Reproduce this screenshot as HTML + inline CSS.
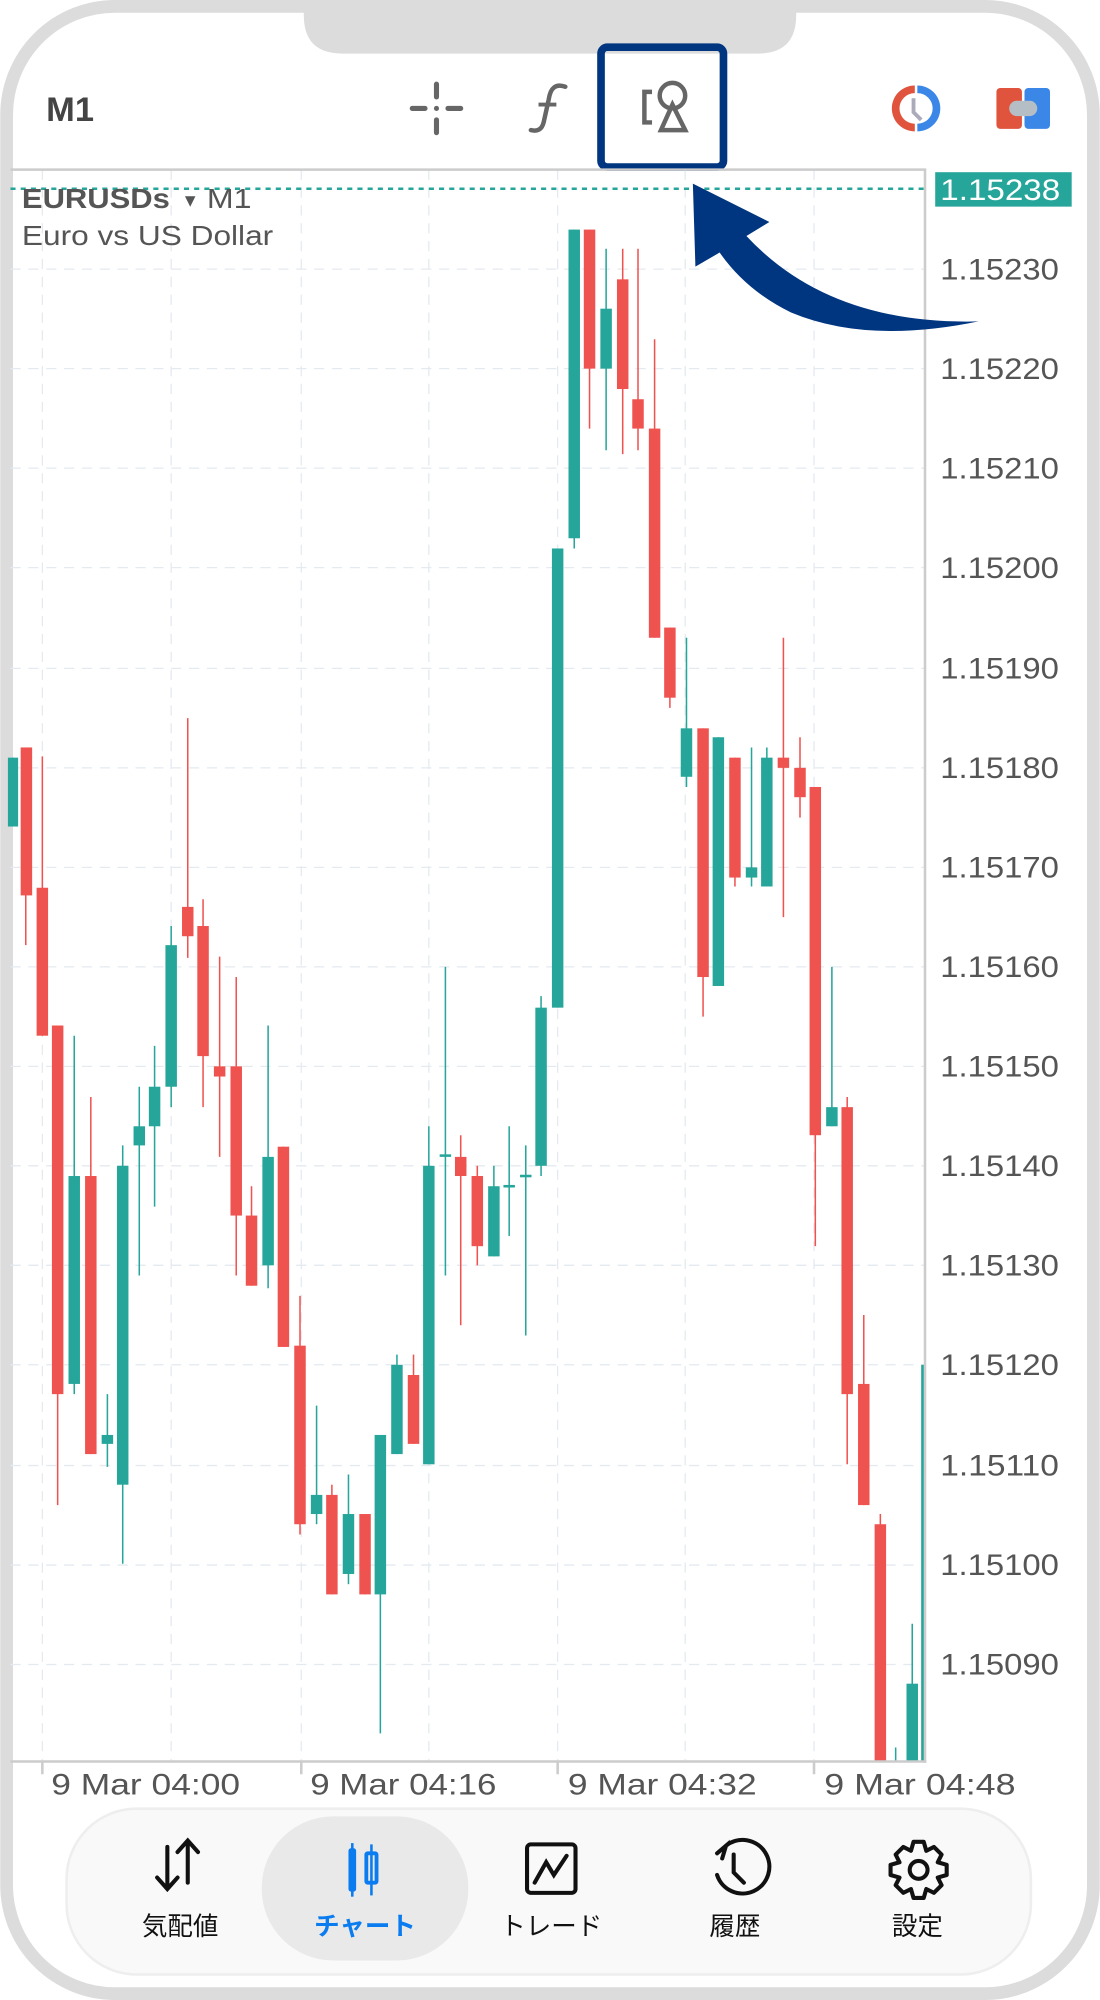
<!DOCTYPE html>
<html><head><meta charset="utf-8"><style>
html,body{margin:0;padding:0;background:#fff;}
svg{display:block;}
text{font-family:"Liberation Sans","Noto Sans CJK JP",sans-serif;}
</style></head><body>
<svg width="1100" height="2000" viewBox="0 0 862 1568" xmlns="http://www.w3.org/2000/svg">
<rect x="0" y="0" width="862" height="1568" fill="#fff"/>
<rect x="5" y="5" width="852" height="1558" rx="85" fill="#fff" stroke="#dcdcdc" stroke-width="10"/>
<path d="M238 0 H624 V12 Q624 42 594 42 H268 Q238 42 238 12 Z" fill="#dcdcdc"/>
<text x="36" y="95" font-size="27" font-weight="bold" fill="#444">M1</text>
<g stroke="#666" stroke-width="4" stroke-linecap="round">
<line x1="342" y1="66" x2="342" y2="76"/><line x1="342" y1="94" x2="342" y2="104"/>
<line x1="323" y1="85" x2="333" y2="85"/><line x1="351" y1="85" x2="361" y2="85"/>
</g>
<circle cx="342" cy="85" r="2" fill="#666"/>
<path d="M443 68 Q432 64 430 78 L426 96 Q424 104 416 102" fill="none" stroke="#666" stroke-width="3.5" stroke-linecap="round"/>
<line x1="422" y1="82" x2="436" y2="82" stroke="#666" stroke-width="3"/>
<g fill="none" stroke="#666" stroke-width="3.5">
<path d="M511 72 H505 V96 H511"/>
<circle cx="527" cy="75" r="10"/>
<path d="M527 82 L518 102 H537 Z"/>
</g>
<rect x="471" y="37" width="96" height="94" rx="5" fill="none" stroke="#003580" stroke-width="6"/>
<path d="M717 67 A18 18 0 0 0 717 103 V97 A12 12 0 0 1 717 73Z" fill="#e0533d"/>
<path d="M719 67 A18 18 0 0 1 719 103 V97 A12 12 0 0 0 719 73Z" fill="#3b87e8"/>
<path d="M716 77 V88 L722 94" stroke="#aab" stroke-width="3" fill="none"/>
<rect x="781" y="69" width="20" height="32" rx="3" fill="#e0533d"/>
<rect x="803" y="69" width="20" height="32" rx="3" fill="#3b87e8"/>
<rect x="791" y="79" width="22" height="12" rx="6" fill="#b5bec4"/>
<g stroke="#e4eaf0" stroke-width="1" stroke-dasharray="8,6">
<line x1="8" y1="211" x2="725" y2="211"/><line x1="8" y1="289" x2="725" y2="289"/>
<line x1="8" y1="367" x2="725" y2="367"/><line x1="8" y1="445" x2="725" y2="445"/>
<line x1="8" y1="524" x2="725" y2="524"/><line x1="8" y1="602" x2="725" y2="602"/>
<line x1="8" y1="680" x2="725" y2="680"/><line x1="8" y1="758" x2="725" y2="758"/>
<line x1="8" y1="836" x2="725" y2="836"/><line x1="8" y1="914" x2="725" y2="914"/>
<line x1="8" y1="992" x2="725" y2="992"/><line x1="8" y1="1070" x2="725" y2="1070"/>
<line x1="8" y1="1149" x2="725" y2="1149"/><line x1="8" y1="1227" x2="725" y2="1227"/>
<line x1="8" y1="1305" x2="725" y2="1305"/>
<line x1="33" y1="133" x2="33" y2="1381"/><line x1="134" y1="133" x2="134" y2="1381"/>
<line x1="236" y1="133" x2="236" y2="1381"/><line x1="336" y1="133" x2="336" y2="1381"/>
<line x1="437" y1="133" x2="437" y2="1381"/><line x1="537" y1="133" x2="537" y2="1381"/>
<line x1="638" y1="133" x2="638" y2="1381"/>
</g>
<line x1="8" y1="148" x2="725" y2="148" stroke="#26a69a" stroke-width="2" stroke-dasharray="4,4"/>
<g stroke-width="1.2">
<line x1="10" y1="594" x2="10" y2="648" stroke="#26a69a"/><rect x="6" y="594" width="8" height="54" fill="#26a69a"/>
<line x1="20" y1="586" x2="20" y2="741" stroke="#ef5350"/><rect x="16" y="586" width="9" height="116" fill="#ef5350"/>
<line x1="33" y1="593" x2="33" y2="812" stroke="#ef5350"/><rect x="28.5" y="696" width="9" height="116" fill="#ef5350"/>
<line x1="45" y1="804" x2="45" y2="1180" stroke="#ef5350"/><rect x="40.5" y="804" width="9" height="289" fill="#ef5350"/>
<line x1="58" y1="812" x2="58" y2="1093" stroke="#26a69a"/><rect x="53.5" y="922" width="9" height="163" fill="#26a69a"/>
<line x1="71" y1="860" x2="71" y2="1140" stroke="#ef5350"/><rect x="66.5" y="922" width="9" height="218" fill="#ef5350"/>
<line x1="84" y1="1093" x2="84" y2="1150" stroke="#26a69a"/><rect x="79.5" y="1125" width="9" height="7" fill="#26a69a"/>
<line x1="96" y1="898" x2="96" y2="1226" stroke="#26a69a"/><rect x="91.5" y="914" width="9" height="250" fill="#26a69a"/>
<line x1="109" y1="852" x2="109" y2="1000" stroke="#26a69a"/><rect x="104.5" y="883" width="9" height="15" fill="#26a69a"/>
<line x1="121" y1="820" x2="121" y2="946" stroke="#26a69a"/><rect x="116.5" y="852" width="9" height="31" fill="#26a69a"/>
<line x1="134" y1="726" x2="134" y2="868" stroke="#26a69a"/><rect x="129.5" y="741" width="9" height="111" fill="#26a69a"/>
<line x1="147" y1="563" x2="147" y2="751" stroke="#ef5350"/><rect x="142.5" y="711" width="9" height="23" fill="#ef5350"/>
<line x1="159" y1="705" x2="159" y2="868" stroke="#ef5350"/><rect x="154.5" y="726" width="9" height="102" fill="#ef5350"/>
<line x1="172" y1="750" x2="172" y2="907" stroke="#ef5350"/><rect x="167.5" y="836" width="9" height="8" fill="#ef5350"/>
<line x1="185" y1="766" x2="185" y2="1000" stroke="#ef5350"/><rect x="180.5" y="836" width="9" height="117" fill="#ef5350"/>
<line x1="197" y1="930" x2="197" y2="1008" stroke="#ef5350"/><rect x="192.5" y="953" width="9" height="55" fill="#ef5350"/>
<line x1="210" y1="804" x2="210" y2="1010" stroke="#26a69a"/><rect x="205.5" y="907" width="9" height="85" fill="#26a69a"/>
<line x1="222" y1="899" x2="222" y2="1056" stroke="#ef5350"/><rect x="217.5" y="899" width="9" height="157" fill="#ef5350"/>
<line x1="235" y1="1016" x2="235" y2="1203" stroke="#ef5350"/><rect x="230.5" y="1055" width="9" height="140" fill="#ef5350"/>
<line x1="248" y1="1102" x2="248" y2="1195" stroke="#26a69a"/><rect x="243.5" y="1172" width="9" height="15" fill="#26a69a"/>
<line x1="260" y1="1164" x2="260" y2="1250" stroke="#ef5350"/><rect x="255.5" y="1172" width="9" height="78" fill="#ef5350"/>
<line x1="273" y1="1156" x2="273" y2="1242" stroke="#26a69a"/><rect x="268.5" y="1187" width="9" height="47" fill="#26a69a"/>
<line x1="286" y1="1187" x2="286" y2="1250" stroke="#ef5350"/><rect x="281.5" y="1187" width="9" height="63" fill="#ef5350"/>
<line x1="298" y1="1125" x2="298" y2="1359" stroke="#26a69a"/><rect x="293.5" y="1125" width="9" height="125" fill="#26a69a"/>
<line x1="311" y1="1062" x2="311" y2="1140" stroke="#26a69a"/><rect x="306.5" y="1070" width="9" height="70" fill="#26a69a"/>
<line x1="324" y1="1062" x2="324" y2="1132" stroke="#ef5350"/><rect x="319.5" y="1078" width="9" height="54" fill="#ef5350"/>
<line x1="336" y1="883" x2="336" y2="1148" stroke="#26a69a"/><rect x="331.5" y="914" width="9" height="234" fill="#26a69a"/>
<line x1="349" y1="758" x2="349" y2="1000" stroke="#26a69a"/><rect x="344.5" y="905" width="9" height="2" fill="#26a69a"/>
<line x1="361" y1="890" x2="361" y2="1039" stroke="#ef5350"/><rect x="356.5" y="907" width="9" height="15" fill="#ef5350"/>
<line x1="374" y1="914" x2="374" y2="992" stroke="#ef5350"/><rect x="369.5" y="922" width="9" height="55" fill="#ef5350"/>
<line x1="387" y1="914" x2="387" y2="985" stroke="#26a69a"/><rect x="382.5" y="930" width="9" height="55" fill="#26a69a"/>
<line x1="399" y1="883" x2="399" y2="969" stroke="#26a69a"/><rect x="394.5" y="929" width="9" height="2" fill="#26a69a"/>
<line x1="412" y1="898" x2="412" y2="1047" stroke="#26a69a"/><rect x="407.5" y="921" width="9" height="2" fill="#26a69a"/>
<line x1="424" y1="781" x2="424" y2="922" stroke="#26a69a"/><rect x="419.5" y="790" width="9" height="124" fill="#26a69a"/>
<line x1="437" y1="430" x2="437" y2="790" stroke="#26a69a"/><rect x="432.5" y="430" width="9" height="360" fill="#26a69a"/>
<line x1="450" y1="180" x2="450" y2="430" stroke="#26a69a"/><rect x="445.5" y="180" width="9" height="242" fill="#26a69a"/>
<line x1="462" y1="180" x2="462" y2="336" stroke="#ef5350"/><rect x="457.5" y="180" width="9" height="109" fill="#ef5350"/>
<line x1="475" y1="195" x2="475" y2="353" stroke="#26a69a"/><rect x="470.5" y="242" width="9" height="47" fill="#26a69a"/>
<line x1="488" y1="195" x2="488" y2="356" stroke="#ef5350"/><rect x="483.5" y="219" width="9" height="86" fill="#ef5350"/>
<line x1="500" y1="195" x2="500" y2="353" stroke="#ef5350"/><rect x="495.5" y="313" width="9" height="23" fill="#ef5350"/>
<line x1="513" y1="266" x2="513" y2="500" stroke="#ef5350"/><rect x="508.5" y="336" width="9" height="164" fill="#ef5350"/>
<line x1="525" y1="492" x2="525" y2="555" stroke="#ef5350"/><rect x="520.5" y="492" width="9" height="55" fill="#ef5350"/>
<line x1="538" y1="500" x2="538" y2="617" stroke="#26a69a"/><rect x="533.5" y="571" width="9" height="38" fill="#26a69a"/>
<line x1="551" y1="571" x2="551" y2="797" stroke="#ef5350"/><rect x="546.5" y="571" width="9" height="195" fill="#ef5350"/>
<line x1="563" y1="578" x2="563" y2="773" stroke="#26a69a"/><rect x="558.5" y="578" width="9" height="195" fill="#26a69a"/>
<line x1="576" y1="594" x2="576" y2="695" stroke="#ef5350"/><rect x="571.5" y="594" width="9" height="94" fill="#ef5350"/>
<line x1="589" y1="586" x2="589" y2="695" stroke="#26a69a"/><rect x="584.5" y="680" width="9" height="8" fill="#26a69a"/>
<line x1="601" y1="586" x2="601" y2="695" stroke="#26a69a"/><rect x="596.5" y="594" width="9" height="101" fill="#26a69a"/>
<line x1="614" y1="500" x2="614" y2="719" stroke="#ef5350"/><rect x="609.5" y="594" width="9" height="8" fill="#ef5350"/>
<line x1="627" y1="578" x2="627" y2="641" stroke="#ef5350"/><rect x="622.5" y="602" width="9" height="23" fill="#ef5350"/>
<line x1="639" y1="617" x2="639" y2="977" stroke="#ef5350"/><rect x="634.5" y="617" width="9" height="273" fill="#ef5350"/>
<line x1="652" y1="758" x2="652" y2="883" stroke="#26a69a"/><rect x="647.5" y="868" width="9" height="15" fill="#26a69a"/>
<line x1="664" y1="860" x2="664" y2="1148" stroke="#ef5350"/><rect x="659.5" y="868" width="9" height="225" fill="#ef5350"/>
<line x1="677" y1="1031" x2="677" y2="1180" stroke="#ef5350"/><rect x="672.5" y="1085" width="9" height="95" fill="#ef5350"/>
<line x1="690" y1="1187" x2="690" y2="1381" stroke="#ef5350"/><rect x="685.5" y="1195" width="9" height="186" fill="#ef5350"/>
<line x1="702" y1="1370" x2="702" y2="1381" stroke="#26a69a"/>
<line x1="715" y1="1273" x2="715" y2="1381" stroke="#26a69a"/><rect x="710.5" y="1320" width="9" height="61" fill="#26a69a"/>
<rect x="722" y="1070" width="3" height="311" fill="#26a69a"/>
</g>
<line x1="8" y1="133" x2="726" y2="133" stroke="#ccc" stroke-width="2"/>
<line x1="725" y1="133" x2="725" y2="1382" stroke="#ccc" stroke-width="2"/>
<line x1="8" y1="1381" x2="726" y2="1381" stroke="#ccc" stroke-width="2"/>
<text x="17" y="163" font-size="22" font-weight="bold" fill="#555" textLength="116" lengthAdjust="spacingAndGlyphs">EURUSDs</text>
<text x="142" y="162" font-size="14" fill="#555">▼</text>
<text x="162" y="163" font-size="22" fill="#555" textLength="35" lengthAdjust="spacingAndGlyphs">M1</text>
<text x="17" y="192" font-size="22" fill="#555" textLength="197" lengthAdjust="spacingAndGlyphs">Euro vs US Dollar</text>
<rect x="733" y="135" width="107" height="27" fill="#26a69a"/>
<text x="737" y="157" font-size="23" fill="#fff" textLength="94" lengthAdjust="spacingAndGlyphs">1.15238</text>
<g font-size="23" fill="#555">
<text x="737" y="219" textLength="93" lengthAdjust="spacingAndGlyphs">1.15230</text><text x="737" y="297" textLength="93" lengthAdjust="spacingAndGlyphs">1.15220</text>
<text x="737" y="375" textLength="93" lengthAdjust="spacingAndGlyphs">1.15210</text><text x="737" y="453" textLength="93" lengthAdjust="spacingAndGlyphs">1.15200</text>
<text x="737" y="532" textLength="93" lengthAdjust="spacingAndGlyphs">1.15190</text><text x="737" y="610" textLength="93" lengthAdjust="spacingAndGlyphs">1.15180</text>
<text x="737" y="688" textLength="93" lengthAdjust="spacingAndGlyphs">1.15170</text><text x="737" y="766" textLength="93" lengthAdjust="spacingAndGlyphs">1.15160</text>
<text x="737" y="844" textLength="93" lengthAdjust="spacingAndGlyphs">1.15150</text><text x="737" y="922" textLength="93" lengthAdjust="spacingAndGlyphs">1.15140</text>
<text x="737" y="1000" textLength="93" lengthAdjust="spacingAndGlyphs">1.15130</text><text x="737" y="1078" textLength="93" lengthAdjust="spacingAndGlyphs">1.15120</text>
<text x="737" y="1157" textLength="93" lengthAdjust="spacingAndGlyphs">1.15110</text><text x="737" y="1235" textLength="93" lengthAdjust="spacingAndGlyphs">1.15100</text>
<text x="737" y="1313" textLength="93" lengthAdjust="spacingAndGlyphs">1.15090</text>
</g>
<g stroke="#ccc" stroke-width="2">
<line x1="33" y1="1381" x2="33" y2="1391"/><line x1="236" y1="1381" x2="236" y2="1391"/>
<line x1="437" y1="1381" x2="437" y2="1391"/><line x1="638" y1="1381" x2="638" y2="1391"/>
</g>
<g font-size="23" fill="#555">
<text x="40" y="1407" textLength="148" lengthAdjust="spacingAndGlyphs">9 Mar 04:00</text><text x="243" y="1407" textLength="146" lengthAdjust="spacingAndGlyphs">9 Mar 04:16</text>
<text x="445" y="1407" textLength="148" lengthAdjust="spacingAndGlyphs">9 Mar 04:32</text><text x="646" y="1407" textLength="150" lengthAdjust="spacingAndGlyphs">9 Mar 04:48</text>
</g>
<path d="M543 144 L603 174 L585 185 Q650 255 767 252 Q680 270 620 245 Q585 228 564 198 L545 209 Z" fill="#003580"/>
<rect x="52" y="1418" width="756" height="130" rx="55" fill="#f9f9f9" stroke="#eee" stroke-width="2"/>
<rect x="205" y="1424" width="162" height="113" rx="56" fill="#e9e9e9"/>
<g stroke="#111" stroke-width="3.2" fill="none" stroke-linecap="round">
<path d="M131 1448 V1480 M123 1472 L131 1481 L139 1472"/>
<path d="M147 1476 V1444 M139 1452 L147 1443 L155 1452"/>
<rect x="413" y="1446" width="38" height="38" rx="3"/>
<path d="M419 1476 L428 1460 L434 1470 L444 1455"/>
<path d="M562 1470 A21 21 0 1 0 569 1447 M562 1453 L569 1447 L566 1457"/>
<path d="M575 1454 V1468 L583 1476"/>
<circle cx="720" cy="1466" r="7"/>
</g>
<g fill="#0a7cf0">
<rect x="273" y="1449" width="6" height="34" rx="2"/><rect x="275" y="1445" width="2" height="42"/>
<rect x="290" y="1446" width="2" height="40"/>
<rect x="287" y="1453" width="8" height="23" rx="1" fill="none" stroke="#0a7cf0" stroke-width="3"/>
</g>
<g transform="translate(720,1466)" fill="none" stroke="#111" stroke-width="3.2" stroke-linejoin="round">
<path d="M-4 -22 H4 L6 -15 L12 -18 L18 -12 L15 -6 L22 -4 V4 L15 6 L18 12 L12 18 L6 15 L4 22 H-4 L-6 15 L-12 18 L-18 12 L-15 6 L-22 4 V-4 L-15 -6 L-18 -12 L-12 -18 L-6 -15 Z"/>
</g>
<g font-size="20" text-anchor="middle">
<text x="141" y="1517" fill="#111">気配値</text>
<text x="286" y="1517" fill="#0a7cf0" font-weight="bold">チャート</text>
<text x="432" y="1517" fill="#111">トレード</text>
<text x="576" y="1517" fill="#111">履歴</text>
<text x="719" y="1517" fill="#111">設定</text>
</g>
</svg>
</body></html>
